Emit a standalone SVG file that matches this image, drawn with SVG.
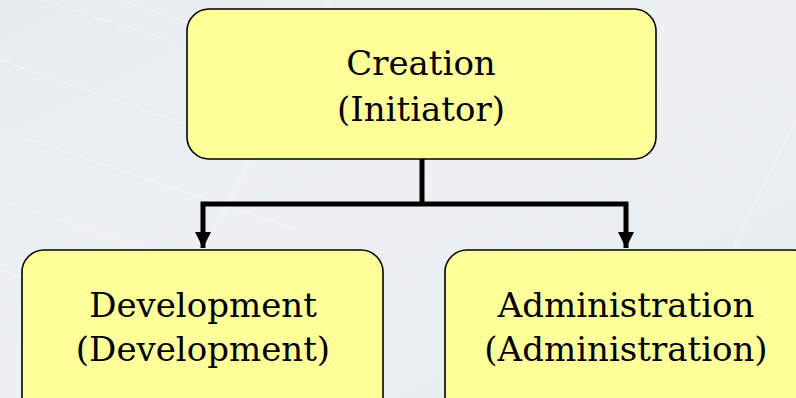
<svg xmlns="http://www.w3.org/2000/svg" width="796" height="398" viewBox="0 0 796 398">
<defs>
<linearGradient id="bg" x1="0" y1="0" x2="1" y2="1">
<stop offset="0" stop-color="#e6ebef"/>
<stop offset="0.5" stop-color="#edf1f4"/>
<stop offset="1" stop-color="#e4e9ee"/>
</linearGradient>
<marker id="ah" viewBox="0 0 10 10" refX="10" refY="5" markerWidth="3.2" markerHeight="3.2" orient="auto" markerUnits="strokeWidth">
<path d="M0,0 L10,5 L0,10 Z" fill="#000"/>
</marker>
<style>
.box{fill:#ffff99;stroke:#000;stroke-width:1.6}
.t{font-family:"DejaVu Serif","Liberation Serif",serif;font-size:34px;fill:#000;text-anchor:middle}
.c{fill:none;stroke:#000;stroke-width:5}
.bgl{stroke:#ffffff;stroke-opacity:0.35;stroke-width:1.5;fill:none}
</style>
</defs>
<rect width="796" height="398" fill="url(#bg)"/>
<g id="background-lines">
<path class="bgl" d="M0,60 L260,150 M0,130 L300,230 M0,200 L330,310 M0,270 L350,390 M40,0 L330,90 M120,0 L420,100"/>
<path class="bgl" d="M130,398 L330,0 M660,398 L796,120"/>
</g>
<g id="connectors">
<path class="c" d="M422,159 V204"/>
<path class="c" d="M422,204 H203 V248" marker-end="url(#ah)"/>
<path class="c" d="M422,204 H626 V248" marker-end="url(#ah)"/>
</g>
<g id="node-creation">
<rect class="box" x="187" y="9" width="469" height="150" rx="22"/>
<text class="t" x="421" y="75">Creation</text>
<text class="t" x="421" y="121">(Initiator)</text>
</g>
<g id="node-development">
<rect class="box" x="22" y="250" width="361" height="170" rx="22"/>
<text class="t" x="203" y="317">Development</text>
<text class="t" x="203" y="361">(Development)</text>
</g>
<g id="node-administration">
<rect class="box" x="445" y="250" width="370" height="170" rx="22"/>
<text class="t" x="626" y="317">Administration</text>
<text class="t" x="626" y="361">(Administration)</text>
</g>
</svg>
